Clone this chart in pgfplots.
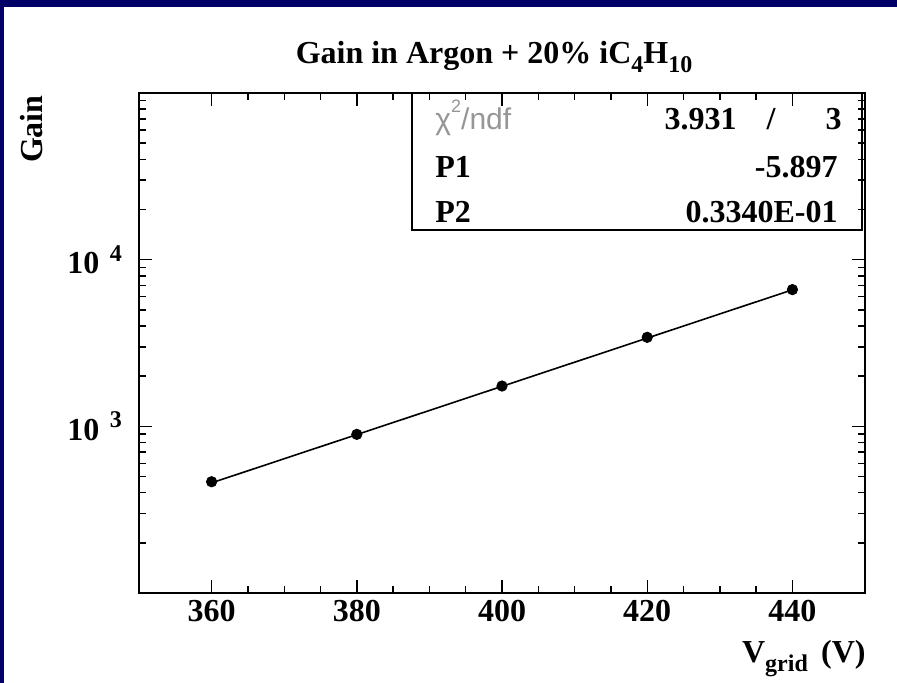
\documentclass[border=0pt]{standalone}
\usepackage{fontspec}
\setmainfont{Liberation Serif}
\newfontfamily\statfont{Liberation Sans}
\usepackage{pgfplots}
\pgfplotsset{compat=1.18}
\definecolor{navy}{RGB}{0,0,102}
\definecolor{statgray}{RGB}{150,150,150}
\newcommand{\bigb}{\bfseries\fontsize{16}{18}\selectfont}
\newcommand{\supx}[1]{\raisebox{0.85ex}{\fontsize{12}{12}\selectfont #1}}
\newcommand{\subx}[1]{\raisebox{-0.55ex}{\fontsize{12}{12}\selectfont #1}}
\begin{document}
\begin{tikzpicture}
\begin{scope}[x=0.5pt,y=0.5pt]
\useasboundingbox (0,0) rectangle (897,683);
\fill[navy] (0,0) rectangle (897,683);
\fill[white] (4,0) rectangle (897,676);
\end{scope}
\begin{axis}[
  at={(69.5pt,45pt)}, anchor=south west,
  scale only axis, width=363pt, height=250pt,
  xmin=350, xmax=450, ymode=log, ymin=100, ymax=100000,
  xtick={360,380,400,420,440}, minor x tick num=3,
  ytick={1000,10000},
  yticklabels={{\bigb 10\,\,\supx{3}},{\bigb 10\,\,\supx{4}}},
  minor ytick={200,300,400,500,600,700,800,900,2000,3000,4000,5000,6000,7000,8000,9000,20000,30000,40000,50000,60000,70000,80000,90000},
  tick align=inside,
  major tick length=6.5pt, minor tick length=3.5pt,
  every tick/.style={black, line width=0.7pt},
  axis line style={line width=0.8pt},
  /pgf/number format/assume math mode=true,
  xticklabel style={font=\bigb},
  yticklabel style={xshift=-5pt},
  clip=false,
]
\addplot[black, line width=0.8pt, no marks] coordinates {(360,458) (440,6592)};
\addplot[only marks, mark=*, mark size=2.6pt, black] coordinates {
(360,465) (380,895) (400,1745) (420,3420) (440,6610)};
\end{axis}
\begin{scope}[x=0.5pt,y=0.5pt]
% title
\node[anchor=base] at (494,619) {\bigb Gain in Argon + 20\% iC\subx{4}H\subx{10}};
% y label
\node[rotate=90, anchor=base east, inner sep=0pt] at (42,588) {\bigb Gain};
% x label
\node[anchor=base east, inner sep=0pt] at (866,20) {\bigb V\subx{grid}\, (V)};
% stats box
\draw[line width=0.8pt] (412,453) rectangle (862,590);
\node[anchor=base west, inner sep=0pt, text=statgray] at (435,553) {\statfont\fontsize{15}{17}\selectfont χ\raisebox{1.1ex}{\fontsize{9}{9}\selectfont 2}/ndf};
\node[anchor=base east, inner sep=0pt] at (737,553) {\bigb 3.931};
\node[anchor=base east, inner sep=0pt] at (776,553) {\bigb /};
\node[anchor=base east, inner sep=0pt] at (842,553) {\bigb 3};
\node[anchor=base west, inner sep=0pt] at (435,505) {\bigb P1};
\node[anchor=base east, inner sep=0pt] at (838,505) {\bigb -5.897};
\node[anchor=base west, inner sep=0pt] at (435,460) {\bigb P2};
\node[anchor=base east, inner sep=0pt] at (838,460) {\bigb 0.3340E-01};
\end{scope}
\end{tikzpicture}
\end{document}
